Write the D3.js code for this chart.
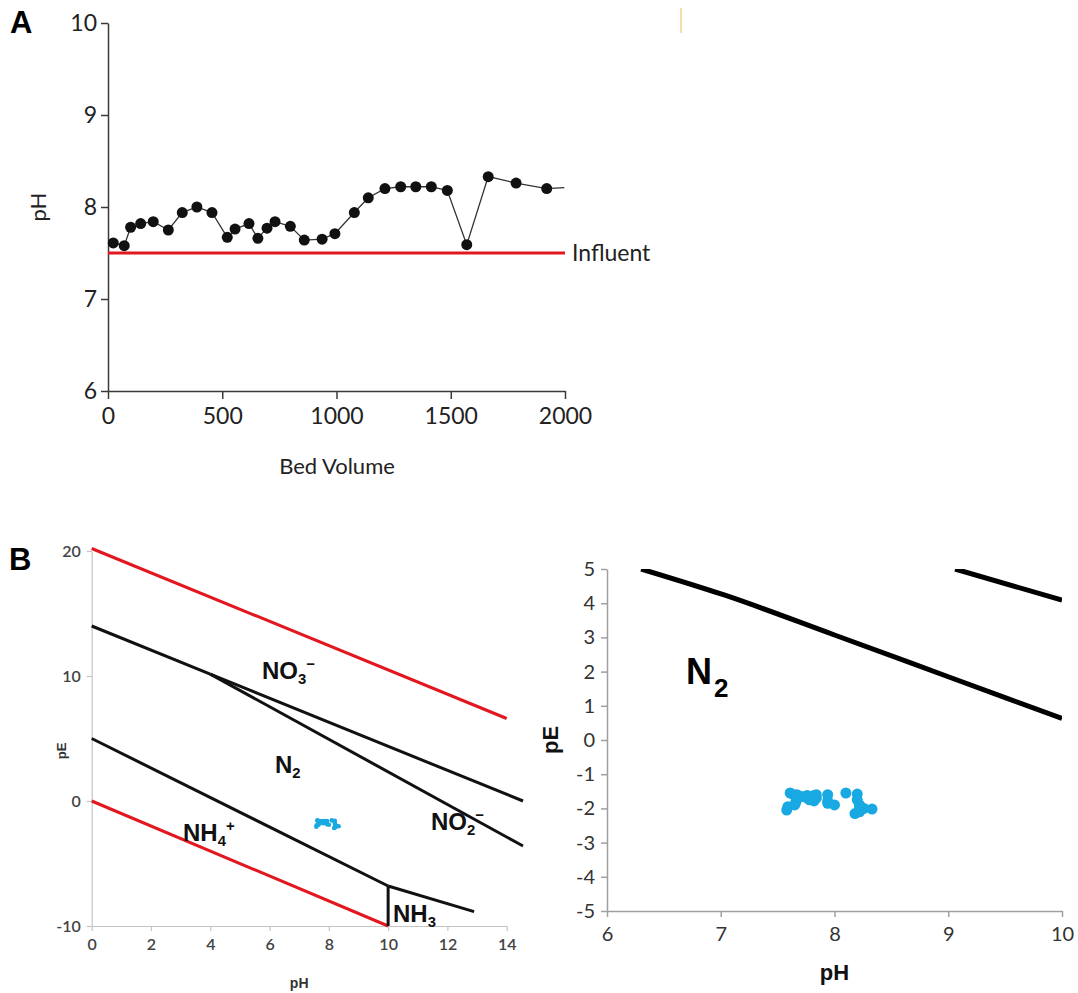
<!DOCTYPE html>
<html>
<head>
<meta charset="utf-8">
<script src="https://cdn.jsdelivr.net/npm/d3@7"></script>
<style>
  html, body { margin: 0; padding: 0; background: #fff; }
  svg { display: block; }
  .calibri { font-family: Lato, "Open Sans", "Liberation Sans", sans-serif; }
  .arial { font-family: "Liberation Sans", Arial, sans-serif; }
</style>
</head>
<body>
<svg id="fig" width="1078" height="993"></svg>
<script>
// ---------- Panel A: effluent pH vs bed volume ----------
const bedVolume = [23, 71, 99, 143, 198, 264, 325, 389, 455, 522, 556, 617, 656, 696, 731,
  798, 859, 937, 993, 1078, 1139, 1212, 1281, 1347, 1415, 1485, 1570, 1664, 1786, 1920];
const effluentPH = [7.61, 7.58, 7.78, 7.82, 7.84, 7.75, 7.94, 8.00, 7.94, 7.67, 7.76, 7.82, 7.66, 7.77, 7.84,
  7.79, 7.64, 7.65, 7.71, 7.94, 8.10, 8.20, 8.22, 8.22, 8.22, 8.18, 7.59, 8.33, 8.26, 8.20];
// trailing line segment after the last marker
const tailBedVolume = 1997;
const tailPH = 8.21;
const influentPH = 7.5;
const bvTicks = [0, 500, 1000, 1500, 2000];
const phTicksA = [6, 7, 8, 9, 10];

// ---------- Panel B: pE of the samples ----------
const samplePE = [-1.55, -2.05, -1.75, -1.62, -1.70, -1.68, -1.60, -1.90, -1.78, -1.60, -1.62, -1.78, -1.82, -1.65, -1.60,
  -1.72, -1.60, -1.90, -1.65, -1.85, -1.55, -1.58, -1.90, -2.10, -1.95, -2.15, -1.95, -2.02, -2.00, -1.75];

// pE-pH stability diagram boundaries (pH, pE)
const waterUpper = [[0, 20.2], [14, 6.6]];
const waterLower = [[0, 0], [10, -10]];
const no3N2 = [[0, 14.0], [4.0, 10.15]];
const no3No2 = [[4.0, 10.15], [14.55, 0]];
const n2No2 = [[4.0, 10.15], [14.55, -3.6]];
const nh4N2 = [[0, 5.0], [10, -6.8]];
const nh3N2 = [[10, -6.8], [12.9, -8.85]];
const nh4Nh3 = [[10, -6.8], [10, -10]];
const phTicksB = [0, 2, 4, 6, 8, 10, 12, 14];
const peTicksB = [-10, 0, 10, 20];

// zoomed diagram boundaries
const zoomLowerBoundary = [[6.3, 5], [7.03, 4.24], [8.0, 3.07], [9.0, 1.85], [10.0, 0.63]];
const zoomUpperBoundary = [[9.06, 5], [10.0, 4.09]];
const phTicksZoom = [6, 7, 8, 9, 10];
const peTicksZoom = [-5, -4, -3, -2, -1, 0, 1, 2, 3, 4, 5];

const svg = d3.select("#fig");
const RED = "#e3171f";
const BLUE = "#19a9e2";
const plain = d => String(d);   // integers, ASCII hyphen for negatives

// ===== Panel A =====
const xA = d3.scaleLinear().domain([0, 2000]).range([108, 565]);
const yA = d3.scaleLinear().domain([6, 10]).range([391, 23]);
const gA = svg.append("g");

const axA_y = gA.append("g").attr("transform", `translate(${xA(0)},0)`)
  .call(d3.axisLeft(yA).tickValues(phTicksA).tickFormat(plain).tickSize(7).tickSizeOuter(0).tickPadding(4));
const axA_x = gA.append("g").attr("transform", `translate(0,${yA(6)})`)
  .call(d3.axisBottom(xA).tickValues(bvTicks).tickFormat(plain).tickSize(8).tickSizeOuter(0).tickPadding(9));
[axA_y, axA_x].forEach(a => {
  a.selectAll("path, line").attr("stroke", "#3a3a3a").attr("stroke-width", 1.5);
  a.selectAll("text").attr("class", "calibri").attr("font-size", 23).attr("fill", "#222");
});

gA.append("line")
  .attr("x1", xA(0)).attr("x2", xA(2000))
  .attr("y1", yA(influentPH)).attr("y2", yA(influentPH))
  .attr("stroke", RED).attr("stroke-width", 3);
gA.append("text").attr("class", "calibri")
  .attr("x", xA(2000) + 7).attr("y", yA(influentPH) + 8)
  .attr("font-size", 23).attr("fill", "#222").text("Influent");

const seriesA = bedVolume.map((b, i) => [b, effluentPH[i]]);
gA.append("path")
  .datum(seriesA.concat([[tailBedVolume, tailPH]]))
  .attr("fill", "none").attr("stroke", "#333").attr("stroke-width", 1.3)
  .attr("d", d3.line().x(d => xA(d[0])).y(d => yA(d[1])));
gA.selectAll("circle").data(seriesA).join("circle")
  .attr("cx", d => xA(d[0])).attr("cy", d => yA(d[1])).attr("r", 5.5).attr("fill", "#111");

gA.append("text").attr("class", "calibri")
  .attr("x", 337).attr("y", 474).attr("text-anchor", "middle")
  .attr("font-size", 22).attr("fill", "#222").text("Bed Volume");
gA.append("text").attr("class", "calibri")
  .attr("transform", `translate(46,${yA(8)}) rotate(-90)`).attr("text-anchor", "middle")
  .attr("font-size", 22).attr("fill", "#222").text("pH");
svg.append("text").attr("class", "arial")
  .attr("x", 10).attr("y", 33).attr("font-size", 31).attr("font-weight", "bold").text("A");
svg.append("line").attr("x1", 681).attr("x2", 681).attr("y1", 8).attr("y2", 33)
  .attr("stroke", "#f3cf95").attr("stroke-width", 1.5);

// ===== Panel B (left): full pE-pH diagram =====
const xL = d3.scaleLinear().domain([0, 14]).range([91.7, 506.7]);
const yL = d3.scaleLinear().domain([-10, 20]).range([926, 551]);
const gL = svg.append("g");

const axL_y = gL.append("g").attr("transform", `translate(${xL(0)},0)`)
  .call(d3.axisLeft(yL).tickValues(peTicksB).tickFormat(plain).tickSize(5).tickSizeOuter(0).tickPadding(6));
const axL_x = gL.append("g").attr("transform", `translate(0,${yL(-10)})`)
  .call(d3.axisBottom(xL).tickValues(phTicksB).tickFormat(plain).tickSize(5).tickSizeOuter(0).tickPadding(8));
[axL_y, axL_x].forEach(a => {
  a.selectAll("path, line").attr("stroke", "#c4c4c4").attr("stroke-width", 1.2);
  a.selectAll("text").attr("class", "calibri").attr("font-size", 16).attr("font-weight", 600).attr("fill", "#444");
});

const lineL = d3.line().x(d => xL(d[0])).y(d => yL(d[1]));
[[waterUpper, RED], [waterLower, RED],
 [no3N2, "#111"], [no3No2, "#111"], [n2No2, "#111"],
 [nh4N2, "#111"], [nh3N2, "#111"], [nh4Nh3, "#111"]].forEach(([pts, c]) => {
  gL.append("path").datum(pts).attr("fill", "none").attr("stroke", c)
    .attr("stroke-width", 3).attr("stroke-linejoin", "round").attr("d", lineL);
});

gL.selectAll("circle.sample").data(effluentPH).join("circle").attr("class", "sample")
  .attr("cx", d => xL(d)).attr("cy", (d, i) => yL(samplePE[i])).attr("r", 2.3).attr("fill", BLUE);

// chemical species label with optional subscript and superscript
function species(g, x, y, base, sub, sup, size) {
  const t = g.append("text").attr("class", "arial").attr("x", x).attr("y", y)
    .attr("font-size", size).attr("font-weight", "bold").attr("fill", "#111");
  t.append("tspan").text(base);
  if (sub) t.append("tspan").attr("font-size", size * 0.62).attr("dy", size * 0.22).text(sub);
  if (sup) t.append("tspan").attr("font-size", size * 0.62).attr("dy", -(sub ? size * 0.22 : 0) - size * 0.42).text(sup);
  return t;
}
species(gL, 262, 679, "NO", "3", "\u2212", 24);
species(gL, 275, 773, "N", "2", null, 24);
species(gL, 431, 830, "NO", "2", "\u2212", 24);
species(gL, 183, 841, "NH", "4", "+", 24);
species(gL, 393, 922, "NH", "3", null, 24);

gL.append("text").attr("class", "arial")
  .attr("x", xL(7)).attr("y", 988).attr("text-anchor", "middle")
  .attr("font-size", 14).attr("font-weight", "bold").attr("fill", "#333").text("pH");
gL.append("text").attr("class", "arial")
  .attr("transform", `translate(66,${yL(4)}) rotate(-90)`).attr("text-anchor", "middle")
  .attr("font-size", 13).attr("font-weight", "bold").attr("fill", "#333").text("pE");
svg.append("text").attr("class", "arial")
  .attr("x", 9).attr("y", 570).attr("font-size", 31).attr("font-weight", "bold").text("B");

// ===== Panel B (right): zoom on the sample region =====
const xR = d3.scaleLinear().domain([6, 10]).range([607, 1062]);
const yR = d3.scaleLinear().domain([-5, 5]).range([911, 569]);
const gR = svg.append("g");

const axR_y = gR.append("g").attr("transform", `translate(${xR(6)},0)`)
  .call(d3.axisLeft(yR).tickValues(peTicksZoom).tickFormat(plain).tickSize(6).tickSizeOuter(0).tickPadding(6));
const axR_x = gR.append("g").attr("transform", `translate(0,${yR(-5)})`)
  .call(d3.axisBottom(xR).tickValues(phTicksZoom).tickFormat(plain).tickSize(6).tickSizeOuter(0).tickPadding(10));
[axR_y, axR_x].forEach(a => {
  a.selectAll("path, line").attr("stroke", "#a0a0a0").attr("stroke-width", 1.5);
  a.selectAll("text").attr("class", "calibri").attr("font-size", 20).attr("fill", "#333");
});

gR.append("clipPath").attr("id", "clipR").append("rect")
  .attr("x", xR(6)).attr("y", yR(5)).attr("width", xR(10) - xR(6)).attr("height", yR(-5) - yR(5));
const lineR = d3.line().curve(d3.curveMonotoneX).x(d => xR(d[0])).y(d => yR(d[1]));
[zoomLowerBoundary, zoomUpperBoundary].forEach(pts => {
  gR.append("path").datum(pts).attr("clip-path", "url(#clipR)")
    .attr("fill", "none").attr("stroke", "#000").attr("stroke-width", 5).attr("d", lineR);
});

gR.selectAll("circle.sample").data(effluentPH).join("circle").attr("class", "sample")
  .attr("cx", d => xR(d)).attr("cy", (d, i) => yR(samplePE[i])).attr("r", 5.5).attr("fill", BLUE);

const n2 = gR.append("text").attr("class", "arial").attr("x", 686).attr("y", 684)
  .attr("font-size", 36).attr("font-weight", "bold").attr("fill", "#000");
n2.append("tspan").text("N");
n2.append("tspan").attr("font-size", 26).attr("dy", 13).attr("dx", 2).text("2");

gR.append("text").attr("class", "arial")
  .attr("x", xR(8)).attr("y", 980).attr("text-anchor", "middle")
  .attr("font-size", 22).attr("font-weight", "bold").attr("fill", "#111").text("pH");
gR.append("text").attr("class", "arial")
  .attr("transform", `translate(558,${yR(0)}) rotate(-90)`).attr("text-anchor", "middle")
  .attr("font-size", 22).attr("font-weight", "bold").attr("fill", "#111").text("pE");
</script>
</body>
</html>
